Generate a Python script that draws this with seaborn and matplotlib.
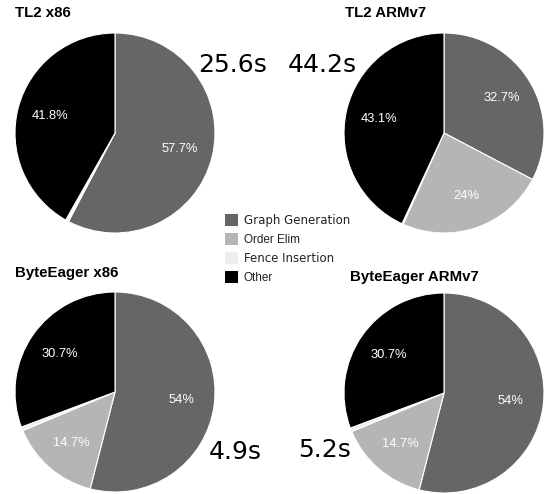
import matplotlib
matplotlib.use("Agg")
import matplotlib.pyplot as plt
import seaborn as sns
from matplotlib.patches import Patch

sns.set_theme(style="white")
plt.rcParams['font.family'] = ['DejaVu Sans']

categories = ["Graph Generation", "Order Elim", "Fence Insertion", "Other"]
colors = ["#666666", "#b5b5b5", "#eeeeee", "#000000"]

titles = ["TL2 x86", "TL2 ARMv7", "ByteEager x86", "ByteEager ARMv7"]
times = ["25.6s", "44.2s", "4.9s", "5.2s"]
tl2_x86 = [57.7, 0.2, 0.3, 41.8]
tl2_arm = [32.7, 24.0, 0.2, 43.1]
be_x86 = [54.0, 14.7, 0.6, 30.7]
be_arm = [54.0, 14.7, 0.6, 30.7]
series = [tl2_x86, tl2_arm, be_x86, be_arm]

W, H = 544, 494
fig = plt.figure(figsize=(W / 100, H / 100), dpi=100)

# pie centers (px) and radius
centers = [(115, 133), (444, 133), (115, 392), (444, 393)]
R = 100
title_pos = [(15, 13), (345, 13), (15, 273), (350, 277)]
time_pos = [(233, 65), (322, 65), (235, 452), (325, 450)]


def fmt(p):
    if p < 5:
        return ""
    s = f"{p:.1f}"
    if s.endswith(".0"):
        s = s[:-2]
    return s + "%"


for vals, (cx, cy), title, tp, tm, tmp in zip(series, centers, titles, title_pos, times, time_pos):
    ax = fig.add_axes([(cx - R) / W, (H - cy - R) / H, 2 * R / W, 2 * R / H])
    wedges, texts, autotexts = ax.pie(
        vals, colors=colors, startangle=90, counterclock=False,
        autopct=fmt, pctdistance=0.67,
        wedgeprops=dict(edgecolor="white", linewidth=0.8),
        textprops=dict(color="white", fontsize=9.3, family="Liberation Sans"),
    )
    ax.set_xlim(-1.0, 1.0)
    ax.set_ylim(-1.0, 1.0)
    ax.set_aspect("equal")
    ax.axis("off")
    fig.text(tp[0] / W, 1 - tp[1] / H, title, ha="left", va="center",
             fontsize=10.8, fontweight="bold", family="Liberation Sans",
             color="black")
    fig.text(tmp[0] / W, 1 - tmp[1] / H, tm, ha="center", va="center",
             fontsize=18, color="black")

handles = [Patch(facecolor=c, edgecolor="none") for c in colors]
leg = fig.legend(handles, categories, loc="center left",
                 bbox_to_anchor=(214 / W, 1 - 249 / H), frameon=False,
                 fontsize=8.5, handlelength=1.15, handleheight=1.15,
                 handletextpad=0.45, labelspacing=0.5)
fams = ["DejaVu Sans", "Liberation Sans", "DejaVu Sans", "Liberation Sans"]
for t, f in zip(leg.get_texts(), fams):
    t.set_family(f)
    t.set_color("#222222")

fig.savefig("out.png", dpi=100)
